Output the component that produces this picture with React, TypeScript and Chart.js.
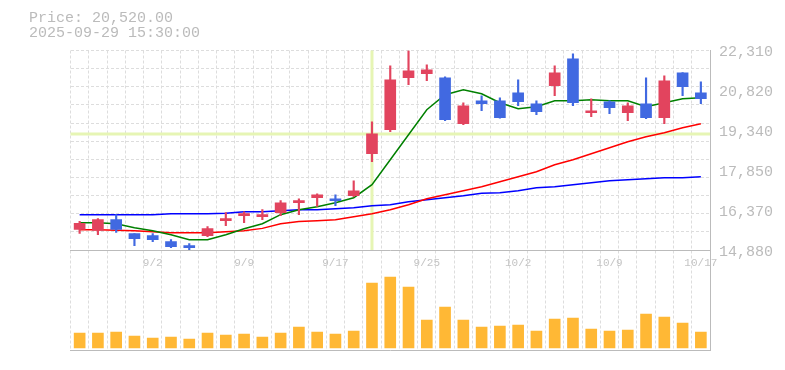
import React, { useEffect, useRef } from "react";
import { Chart, registerables } from "chart.js";

Chart.register(...registerables);

// ---- data ----
const dates = [
  "8/27", "8/28", "8/29", "9/1", "9/2", "9/3", "9/4", "9/5", "9/8", "9/9",
  "9/10", "9/11", "9/12", "9/16", "9/17", "9/18", "9/19", "9/22", "9/24", "9/25",
  "9/26", "9/29", "9/30", "10/1", "10/2", "10/3", "10/6", "10/7", "10/8", "10/9",
  "10/10", "10/14", "10/15", "10/16", "10/17",
];
const xTickDates = ["9/2", "9/9", "9/17", "9/25", "10/2", "10/9", "10/17"];

const opens = [
  15648, 15610, 16009, 15488, 15413, 15190, 15041, 15413, 15971, 16157,
  16120, 16269, 16641, 16828, 16790, 16902, 18465, 19358, 21294, 21443,
  21294, 19582, 20438, 20438, 20736, 20326, 20996, 22001, 19991, 20401,
  19991, 20326, 19805, 21480, 20736,
];
const highs = [
  15945, 16046, 16195, 15488, 15488, 15264, 15115, 15748, 16269, 16306,
  16381, 16716, 16790, 16976, 16939, 17460, 19656, 21741, 22310, 21778,
  21331, 20363, 20624, 20550, 21219, 20438, 21741, 22187, 20512, 20438,
  20363, 21294, 21368, 21490, 21145,
];
const lows = [
  15499, 15450, 15536, 15041, 15190, 14966, 14880, 15376, 15785, 15897,
  16009, 16157, 16195, 16504, 16530, 16865, 18167, 19284, 21033, 21182,
  19694, 19545, 20066, 19790, 20252, 19917, 20624, 20252, 19842, 19954,
  19694, 19768, 19582, 20624, 20326,
];
const closes = [
  15871, 16009, 15648, 15301, 15264, 15004, 14966, 15674, 16046, 16232,
  16195, 16641, 16716, 16939, 16716, 17088, 19210, 21219, 21554, 21592,
  19731, 20252, 20326, 19805, 20401, 20028, 21480, 20363, 20066, 20177,
  20252, 19805, 21182, 20959, 20520,
];
const volumes = [
  150000, 150000, 160000, 120000, 100000, 110000, 90000, 150000, 130000, 140000,
  110000, 150000, 210000, 160000, 140000, 170000, 650000, 710000, 610000, 280000,
  410000, 280000, 210000, 220000, 230000, 170000, 290000, 300000, 190000, 170000,
  180000, 340000, 310000, 250000, 160000,
];
const ma5 = [
  15897, 15897, 15860, 15711, 15599, 15450, 15264, 15264, 15450, 15674,
  15860, 16195, 16381, 16492, 16641, 16828, 17311, 18242, 19172, 20103,
  20661, 20847, 20700, 20363, 20140, 20215, 20438, 20438, 20475, 20438,
  20438, 20215, 20363, 20512, 20549,
];
const ma25 = [
  15636, 15636, 15617, 15599, 15562, 15525, 15525, 15525, 15562, 15599,
  15685, 15860, 15945, 15971, 16009, 16120, 16232, 16381, 16567, 16790,
  16939, 17088, 17237, 17423, 17609, 17795, 18056, 18242, 18465, 18688,
  18912, 19098, 19247, 19433, 19582,
];
const ma75 = [
  16195, 16195, 16195, 16195, 16195, 16232, 16232, 16232, 16251, 16306,
  16306, 16344, 16381, 16381, 16418, 16455, 16530, 16567, 16679, 16753,
  16828, 16902, 16995, 17014, 17088, 17200, 17237, 17311, 17386, 17460,
  17497, 17535, 17572, 17572, 17609,
];
const priceTickValues = [14880, 16366, 17852, 19338, 20824, 22310];
const priceTickLabels = ["14,880", "16,370", "17,850", "19,340", "20,820", "22,310"];
const priceMin = 14880;
const priceMax = 22310;
const crossIndex = 16;
const crossPrice = 19200;
const headerPrice = "Price: 20,520.00";
const headerTime = "2025-09-29 15:30:00";

// ---- styles ----
const UP = "#e2445e";
const DOWN = "#4169e1";
const GRID = "#dddddd";
const AXIS = "#bbbbbb";
const MONO = "'Liberation Mono', 'Courier New', monospace";
const LEFT = 70.5;
const RIGHT_W = 75;

export default function App() {
  const priceRef = useRef<HTMLCanvasElement>(null);
  const volRef = useRef<HTMLCanvasElement>(null);

  useEffect(() => {
    const candleColors = closes.map((c, i) => (c >= opens[i] ? UP : DOWN));

    const crosshair = {
      id: "crosshair",
      beforeDatasetsDraw(chart: any) {
        const { ctx, chartArea, scales } = chart;
        const x = scales.x.getPixelForValue(crossIndex);
        const y = scales.y.getPixelForValue(crossPrice);
        ctx.save();
        ctx.strokeStyle = "#e6f5b4";
        ctx.lineWidth = 3;
        ctx.beginPath();
        ctx.moveTo(x, chartArea.top);
        ctx.lineTo(x, chartArea.bottom);
        ctx.moveTo(chartArea.left, y);
        ctx.lineTo(chartArea.right, y);
        ctx.stroke();
        ctx.restore();
      },
    };

    const volChart = new Chart(volRef.current!, {
      type: "bar",
      data: {
        labels: dates,
        datasets: [
          {
            data: volumes,
            backgroundColor: "#ffb835",
            barThickness: 11,
            yAxisID: "y",
          },
        ],
      },
      options: {
        responsive: false,
        animation: false,
        layout: { padding: { left: LEFT, top: 250.5, right: 0, bottom: 0 } },
        plugins: { legend: { display: false }, tooltip: { enabled: false } },
        scales: {
          x: {
            offset: true,
            grid: { offset: true, color: GRID, drawTicks: false },
            border: { display: true, color: AXIS, dash: [3, 2] },
            ticks: { display: false },
            afterFit: (s: any) => {
              s.height = 20;
            },
          },
          y: {
            position: "right",
            min: -20000,
            max: 977000,
            grid: { display: false, drawTicks: false },
            border: { display: true, color: AXIS },
            ticks: { display: false },
            afterFit: (s: any) => {
              s.width = RIGHT_W;
            },
          },
        },
      },
    } as any);

    const priceChart = new Chart(priceRef.current!, {
      type: "bar",
      data: {
        labels: dates,
        datasets: [
          {
            type: "line",
            data: ma75,
            borderColor: "#0000ff",
            borderWidth: 1.5,
            pointRadius: 0,
            fill: false,
            tension: 0,
            yAxisID: "y",
            order: 5,
          },
          {
            type: "line",
            data: ma25,
            borderColor: "#ff0000",
            borderWidth: 1.5,
            pointRadius: 0,
            fill: false,
            tension: 0,
            yAxisID: "y",
            order: 4,
          },
          {
            type: "line",
            data: ma5,
            borderColor: "#008000",
            borderWidth: 1.5,
            pointRadius: 0,
            fill: false,
            tension: 0,
            yAxisID: "y",
            order: 3,
          },
          {
            type: "bar",
            data: lows.map((l, i) => [l, highs[i]]),
            backgroundColor: candleColors,
            barThickness: 1.5,
            grouped: false,
            yAxisID: "y",
            order: 2,
          },
          {
            type: "bar",
            data: opens.map((o, i) => [o, closes[i]]),
            backgroundColor: candleColors,
            barThickness: 11,
            minBarLength: 1.5,
            grouped: false,
            yAxisID: "y",
            order: 1,
          },
        ],
      },
      options: {
        responsive: false,
        animation: false,
        layout: { padding: { left: LEFT, top: 50.5, right: 0, bottom: 0 } },
        plugins: { legend: { display: false }, tooltip: { enabled: false } },
        scales: {
          x: {
            offset: true,
            grid: { offset: true, color: GRID, drawTicks: false },
            border: { display: true, color: AXIS, dash: [3, 2] },
            ticks: {
              autoSkip: false,
              maxRotation: 0,
              padding: 6,
              color: "#c4c4c4",
              font: { family: MONO, size: 11 },
              callback: (_v: any, i: number) =>
                xTickDates.includes(dates[i]) ? dates[i] : "",
            },
            afterFit: (s: any) => {
              s.height = 120;
            },
          },
          yGrid: {
            type: "linear",
            position: "left",
            min: 0,
            max: 11,
            grid: { color: GRID, drawTicks: false },
            border: { display: false, dash: [3, 2] },
            ticks: { display: false, stepSize: 1 },
            afterFit: (s: any) => {
              s.width = 0;
            },
          },
          y: {
            type: "linear",
            position: "right",
            min: priceMin,
            max: priceMax,
            grid: { display: false, drawTicks: false },
            border: { display: true, color: AXIS },
            afterBuildTicks: (s: any) => {
              s.ticks = priceTickValues.map((v) => ({ value: v }));
            },
            ticks: {
              padding: 9,
              labelOffset: 2,
              color: AXIS,
              font: { family: MONO, size: 15 },
              callback: (_v: any, i: number) => priceTickLabels[i],
            },
            afterFit: (s: any) => {
              s.width = RIGHT_W;
            },
          },
        },
      },
      plugins: [crosshair],
    } as any);

    return () => {
      priceChart.destroy();
      volChart.destroy();
    };
  }, []);

  return (
    <div
      style={{
        position: "absolute",
        left: 0,
        top: 0,
        width: 785,
        height: 370,
        background: "#ffffff",
        overflow: "hidden",
      }}
    >
      <canvas
        ref={volRef}
        width={785}
        height={370}
        style={{ position: "absolute", left: 0, top: 0 }}
      />
      <canvas
        ref={priceRef}
        width={785}
        height={370}
        style={{ position: "absolute", left: 0, top: 0 }}
      />
      <div
        style={{
          position: "absolute",
          left: 29,
          top: 11,
          font: `15px ${MONO}`,
          lineHeight: "15px",
          color: AXIS,
          whiteSpace: "pre",
        }}
      >
        {headerPrice}
        {"\n"}
        {headerTime}
      </div>
    </div>
  );
}
